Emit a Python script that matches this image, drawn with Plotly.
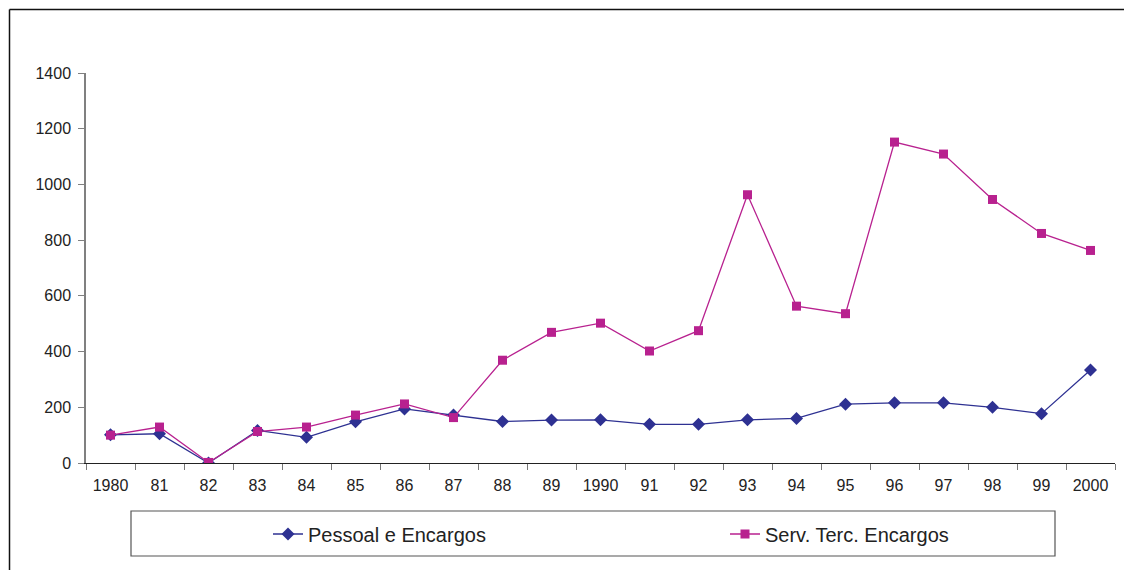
import plotly.graph_objects as go

years = ["1980", "81", "82", "83", "84", "85", "86", "87", "88", "89", "1990",
         "91", "92", "93", "94", "95", "96", "97", "98", "99", "2000"]
pessoal = [101, 105, 0, 117, 92, 148, 194, 172, 149, 154, 155,
           139, 139, 155, 160, 211, 216, 216, 200, 177, 334]
serv = [100, 129, 2, 113, 129, 172, 212, 163, 369, 469, 502,
        402, 475, 963, 563, 536, 1152, 1109, 946, 824, 763]
y_ticks = [0, 200, 400, 600, 800, 1000, 1200, 1400]

NAVY = "#2E3192"
MAGENTA = "#B8218F"
FONT = "Liberation Sans, Arial, sans-serif"

# page body has an 8px margin; figure coordinates = screen coordinates - 8
OFF = 8
W, H = 1132 - OFF, 570 - OFF
plot_left, plot_right, plot_top, plot_bottom = 86, 1115, 73, 463  # screen px
L = plot_left - OFF
T = plot_top - OFF
R = W - (plot_right - OFF)
B = H - (plot_bottom - OFF)
pw = W - L - R
ph = H - T - B


def px_x(x):
    return (x - plot_left) / pw


def px_y(y):
    return (plot_bottom - y) / ph


fig = go.Figure()
fig.add_trace(go.Scatter(
    x=years, y=pessoal, name="Pessoal e Encargos", mode="lines+markers",
    line=dict(color=NAVY, width=1.3),
    marker=dict(symbol="diamond", size=10, color=NAVY),
    legend="legend",
))
fig.add_trace(go.Scatter(
    x=years, y=serv, name="Serv. Terc. Encargos", mode="lines+markers",
    line=dict(color=MAGENTA, width=1.3),
    marker=dict(symbol="square", size=9, color=MAGENTA),
    legend="legend2",
))

fig.update_layout(
    width=W, height=H,
    margin=dict(l=L, r=R, t=T, b=B, pad=0, autoexpand=False),
    paper_bgcolor="white", plot_bgcolor="white",
    font=dict(family=FONT, size=16, color="#222222"),
    showlegend=True,
    legend=dict(
        x=px_x(268), y=px_y(534), xanchor="left", yanchor="middle",
        orientation="h", bgcolor="rgba(0,0,0,0)", borderwidth=0,
        font=dict(family=FONT, size=20, color="#222222"),
    ),
    legend2=dict(
        x=px_x(725), y=px_y(534), xanchor="left", yanchor="middle",
        orientation="h", bgcolor="rgba(0,0,0,0)", borderwidth=0,
        font=dict(family=FONT, size=20, color="#222222"),
    ),
    xaxis=dict(
        type="category", tickson="boundaries",
        showline=True, linecolor="#222222", linewidth=1.3,
        ticks="outside", ticklen=6, tickcolor="#777777", tickwidth=1.3,
        showgrid=False, zeroline=False, ticklabelstandoff=8,
        tickfont=dict(family=FONT, size=16, color="#222222"),
        range=[-0.5, len(years) - 0.5],
    ),
    yaxis=dict(
        range=[0, 1400], tickvals=y_ticks,
        showline=True, linecolor="#808080", linewidth=1.5,
        ticks="outside", ticklen=6, tickcolor="#808080", tickwidth=1.3,
        showgrid=False, zeroline=False, ticklabelstandoff=4,
        tickfont=dict(family=FONT, size=16, color="#222222"),
    ),
    shapes=[
        dict(type="rect", xref="paper", yref="paper",
             x0=px_x(131), x1=px_x(1055), y0=px_y(556), y1=px_y(511),
             line=dict(color="#555555", width=1.2), fillcolor="rgba(0,0,0,0)",
             layer="below"),
        # outer frame: left and top edges only (the rest lies outside the picture)
        dict(type="line", xref="paper", yref="paper",
             x0=px_x(9.5), x1=px_x(9.5), y0=px_y(600), y1=px_y(9.5),
             line=dict(color="#111111", width=1.5), layer="below"),
        dict(type="line", xref="paper", yref="paper",
             x0=px_x(9.5), x1=px_x(1140), y0=px_y(9.5), y1=px_y(9.5),
             line=dict(color="#111111", width=1.5), layer="below"),
    ],
)

fig.write_html("out.html")
